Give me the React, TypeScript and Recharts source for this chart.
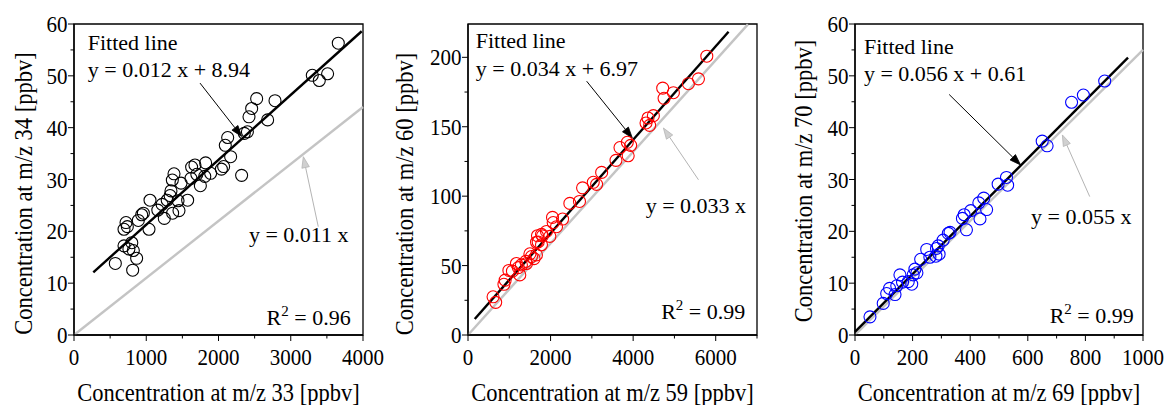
import React from 'react';
import { ScatterChart, Scatter, XAxis, YAxis, ReferenceLine, ReferenceArea, ReferenceDot } from 'recharts';

const FONT = '"Liberation Serif", "Times New Roman", Times, serif';

// ---------- Panel 1 (m/z 33 vs m/z 34) ----------
const p1Points = [
  { x: 572, y: 13.8 }, { x: 812, y: 12.5 }, { x: 867, y: 14.8 }, { x: 821, y: 16.3 }, { x: 800, y: 17.8 },
  { x: 760, y: 16.6 }, { x: 692, y: 17.2 }, { x: 720, y: 21.7 }, { x: 738, y: 20.9 }, { x: 692, y: 20.4 },
  { x: 890, y: 22.1 }, { x: 937, y: 23.2 }, { x: 960, y: 23.5 }, { x: 1038, y: 20.4 }, { x: 1052, y: 26.0 },
  { x: 1160, y: 24.1 }, { x: 1220, y: 25.2 }, { x: 1250, y: 22.5 }, { x: 1290, y: 26.0 }, { x: 1330, y: 26.9 },
  { x: 1342, y: 27.8 }, { x: 1361, y: 29.9 }, { x: 1384, y: 31.1 }, { x: 1440, y: 25.9 }, { x: 1453, y: 24.0 },
  { x: 1365, y: 23.5 }, { x: 1481, y: 29.3 }, { x: 1573, y: 26.0 }, { x: 1619, y: 30.2 }, { x: 1628, y: 32.4 },
  { x: 1674, y: 32.8 }, { x: 1700, y: 31.0 }, { x: 1749, y: 28.8 }, { x: 1810, y: 30.6 }, { x: 1822, y: 33.2 },
  { x: 1891, y: 31.2 }, { x: 2040, y: 32.0 }, { x: 2071, y: 32.5 }, { x: 2094, y: 36.6 }, { x: 2127, y: 38.1 },
  { x: 2168, y: 34.4 }, { x: 2320, y: 30.8 }, { x: 2357, y: 38.9 }, { x: 2400, y: 39.2 }, { x: 2422, y: 42.1 },
  { x: 2459, y: 43.7 }, { x: 2528, y: 45.6 }, { x: 2680, y: 41.5 }, { x: 2782, y: 45.2 }, { x: 3298, y: 50.1 },
  { x: 3395, y: 49.1 }, { x: 3510, y: 50.4 }, { x: 3658, y: 56.3 },
];
const p1Fit = [{ x: 267, y: 12.1 }, { x: 3982, y: 58.6 }];
const p1Ident = [{ x: 0, y: 0 }, { x: 4000, y: 44 }];
const p1FitArrow = [{ x: 1744, y: 48.6 }, { x: 2321, y: 38.3 }];
const p1IdentArrow = [{ x: 3381, y: 20.9 }, { x: 3174, y: 34.4 }];
const p1XTicks = [0, 500, 1000, 1500, 2000, 2500, 3000, 3500, 4000];
const p1YTicks = [0, 5, 10, 15, 20, 25, 30, 35, 40, 45, 50, 55, 60];
const p1Texts = { fitted: 'y = 0.012 x + 8.94', ident: 'y = 0.011 x', r2: '0.96' };

// ---------- Panel 2 (m/z 59 vs m/z 60) ----------
const p2Points = [
  { x: 607, y: 27.5 }, { x: 671, y: 23.5 }, { x: 870, y: 36.5 }, { x: 900, y: 39.5 }, { x: 990, y: 46.5 },
  { x: 1076, y: 46.0 }, { x: 1173, y: 51.5 }, { x: 1254, y: 43.3 }, { x: 1294, y: 50.5 }, { x: 1220, y: 48.5 },
  { x: 1400, y: 53.0 }, { x: 1417, y: 51.5 }, { x: 1500, y: 58.5 }, { x: 1537, y: 56.5 }, { x: 1600, y: 55.0 },
  { x: 1658, y: 57.7 }, { x: 1660, y: 66.8 }, { x: 1683, y: 71.5 }, { x: 1700, y: 67.0 }, { x: 1780, y: 65.0 },
  { x: 1781, y: 72.5 }, { x: 1804, y: 71.4 }, { x: 1901, y: 74.6 }, { x: 1982, y: 71.0 }, { x: 2047, y: 84.7 },
  { x: 2063, y: 81.0 }, { x: 2144, y: 78.0 }, { x: 2291, y: 83.5 }, { x: 2467, y: 94.8 }, { x: 2700, y: 96.2 },
  { x: 2775, y: 106.0 }, { x: 3034, y: 110.0 }, { x: 3115, y: 108.5 }, { x: 3237, y: 117.1 }, { x: 3584, y: 125.8 },
  { x: 3681, y: 135.0 }, { x: 3859, y: 138.8 }, { x: 3940, y: 136.6 }, { x: 3880, y: 129.1 }, { x: 4312, y: 152.7 },
  { x: 4400, y: 151.0 }, { x: 4490, y: 158.0 }, { x: 4360, y: 156.3 }, { x: 4716, y: 177.8 }, { x: 4749, y: 170.5 },
  { x: 4975, y: 174.5 }, { x: 5339, y: 181.0 }, { x: 5582, y: 184.5 }, { x: 5784, y: 200.8 },
];
const p2Fit = [{ x: 163, y: 11.5 }, { x: 6311, y: 218.4 }];
const p2Ident = [{ x: 0, y: 0 }, { x: 6780, y: 223.7 }];
const p2FitArrow = [{ x: 2874, y: 182.8 }, { x: 3980, y: 141.9 }];
const p2IdentArrow = [{ x: 5582, y: 111.8 }, { x: 4733, y: 149.1 }];
const p2XTicks = [0, 1000, 2000, 3000, 4000, 5000, 6000, 7000];
const p2YTicks = [0, 25, 50, 75, 100, 125, 150, 175, 200];
const p2Texts = { fitted: 'y = 0.034 x + 6.97', ident: 'y = 0.033 x', r2: '0.99' };

// ---------- Panel 3 (m/z 69 vs m/z 70) ----------
const p3Points = [
  { x: 52, y: 3.5 }, { x: 98, y: 6.1 }, { x: 110, y: 8.0 }, { x: 120, y: 9.0 }, { x: 139, y: 7.8 },
  { x: 145, y: 9.5 }, { x: 156, y: 11.6 }, { x: 165, y: 10.2 }, { x: 185, y: 10.3 }, { x: 197, y: 9.8 },
  { x: 202, y: 11.6 }, { x: 208, y: 12.7 }, { x: 215, y: 12.0 }, { x: 228, y: 14.6 }, { x: 249, y: 16.5 },
  { x: 260, y: 15.0 }, { x: 281, y: 15.2 }, { x: 283, y: 16.7 }, { x: 289, y: 17.2 }, { x: 292, y: 15.6 },
  { x: 306, y: 18.3 }, { x: 324, y: 19.6 }, { x: 330, y: 19.8 }, { x: 373, y: 22.5 }, { x: 379, y: 23.2 },
  { x: 387, y: 20.3 }, { x: 402, y: 24.0 }, { x: 434, y: 22.4 }, { x: 447, y: 26.4 }, { x: 430, y: 25.5 },
  { x: 457, y: 24.2 }, { x: 497, y: 29.1 }, { x: 526, y: 30.4 }, { x: 530, y: 28.9 }, { x: 650, y: 37.4 },
  { x: 667, y: 36.5 }, { x: 752, y: 44.9 }, { x: 793, y: 46.3 }, { x: 867, y: 49.0 },
];
const p3Fit = [{ x: 0, y: 0.6 }, { x: 948, y: 53.5 }];
const p3Ident = [{ x: 0, y: 0 }, { x: 1000, y: 55 }];
const p3FitArrow = [{ x: 327, y: 46.4 }, { x: 575, y: 32.8 }];
const p3IdentArrow = [{ x: 815, y: 26.7 }, { x: 720, y: 38.6 }];
const p3XTicks = [0, 100, 200, 300, 400, 500, 600, 700, 800, 900, 1000];
const p3YTicks = [0, 5, 10, 15, 20, 25, 30, 35, 40, 45, 50, 55, 60];
const p3Texts = { fitted: 'y = 0.056 x + 0.61', ident: 'y = 0.055 x', r2: '0.99' };

const panels = [
  {
    left: 0, color: '#000000', points: p1Points, fit: p1Fit, ident: p1Ident, fitArrow: p1FitArrow, identArrow: p1IdentArrow,
    xTicks: p1XTicks, yTicks: p1YTicks, xMajor: 1000, yMajor: 10, xDomain: [0, 4000], yDomain: [0, 60], texts: p1Texts,
    xLabel: 'Concentration at m/z 33 [ppbv]', yLabel: 'Concentration at m/z 34 [ppbv]',
    margin: { top: 24, right: 27, bottom: 40, left: 34 },
    fittedPos: { x: 190, y: 55.0 }, eqPos: { x: 190, y: 49.8 }, identPos: { x: 3800, y: 18.0 }, r2Pos: { x: 3830, y: 1.93 },
    yLabelX: 31.5, yLabelCy: 193.5,
  },
  {
    left: 390, color: '#ff0000', points: p2Points, fit: p2Fit, ident: p2Ident, fitArrow: p2FitArrow, identArrow: p2IdentArrow,
    xTicks: p2XTicks, yTicks: p2YTicks, xMajor: 2000, yMajor: 50, xDomain: [0, 7000], yDomain: [0, 224], texts: p2Texts,
    xLabel: 'Concentration at m/z 59 [ppbv]', yLabel: 'Concentration at m/z 60 [ppbv]',
    margin: { top: 24, right: 23, bottom: 40, left: 38 },
    fittedPos: { x: 187, y: 206.9 }, eqPos: { x: 187, y: 186.9 }, identPos: { x: 6735, y: 88.0 }, r2Pos: { x: 6716, y: 11.5 },
    yLabelX: 23, yLabelCy: 194,
  },
  {
    left: 780, color: '#0000ff', points: p3Points, fit: p3Fit, ident: p3Ident, fitArrow: p3FitArrow, identArrow: p3IdentArrow,
    xTicks: p3XTicks, yTicks: p3YTicks, xMajor: 200, yMajor: 10, xDomain: [0, 1000], yDomain: [0, 60], texts: p3Texts,
    xLabel: 'Concentration at m/z 69 [ppbv]', yLabel: 'Concentration at m/z 70 [ppbv]',
    margin: { top: 24, right: 27, bottom: 40, left: 35 },
    fittedPos: { x: 31, y: 54.2 }, eqPos: { x: 31, y: 49.0 }, identPos: { x: 960, y: 21.4 }, r2Pos: { x: 968, y: 2.4 },
    yLabelX: 31.7, yLabelCy: 181,
  },
];

const isMajor = (v: number, step: number) => Math.abs(v / step - Math.round(v / step)) < 1e-9;

const XTick = (props: any) => {
  const { x, y, payload, major } = props;
  const m = isMajor(payload.value, major);
  return (
    <g>
      <line x1={x} x2={x} y1={y} y2={y + (m ? 6 : 3.5)} stroke="#000" strokeWidth={1} />
      {m && (
        <text
          x={0}
          y={0}
          transform={`translate(${x}, ${y + 29.5}) scale(1, 1.14)`}
          textAnchor="middle"
          fontFamily={FONT}
          fontSize={21}
          fill="#000"
        >
          {payload.value}
        </text>
      )}
    </g>
  );
};

const YTick = (props: any) => {
  const { x, y, payload, major } = props;
  const m = isMajor(payload.value, major);
  return (
    <g>
      <line x1={x} x2={x - (m ? 6 : 3.5)} y1={y} y2={y} stroke="#000" strokeWidth={1} />
      {m && (
        <text
          x={0}
          y={0}
          transform={`translate(${x - 6.5}, ${y + 8}) scale(1, 1.14)`}
          textAnchor="end"
          fontFamily={FONT}
          fontSize={21}
          fill="#000"
        >
          {payload.value}
        </text>
      )}
    </g>
  );
};

const makeArrow = (color: string, headFill: string) => (props: any) => {
  const { x1, y1, x2, y2 } = props;
  const dx = x2 - x1;
  const dy = y2 - y1;
  const L = Math.hypot(dx, dy) || 1;
  const ux = dx / L;
  const uy = dy / L;
  const hl = 11;
  const hw = 3.8;
  const bx = x2 - ux * hl;
  const by = y2 - uy * hl;
  const px = -uy;
  const py = ux;
  return (
    <g>
      <line x1={x1} y1={y1} x2={bx} y2={by} stroke={color} strokeWidth={1} />
      <polygon
        points={`${x2},${y2} ${bx + px * hw},${by + py * hw} ${bx - px * hw},${by - py * hw}`}
        fill={headFill}
        stroke={color}
        strokeWidth={0.8}
      />
    </g>
  );
};

const blackArrow = makeArrow('#000000', '#000000');
const grayArrow = makeArrow('#b4b4b4', '#d0d0d0');

const textShape = (content: React.ReactNode, anchor: 'start' | 'end') => (p: any) => (
  <text x={p.cx} y={p.cy} textAnchor={anchor} fontFamily={FONT} fontSize={22} fill="#000">
    {content}
  </text>
);

const Panel = ({ cfg }: { cfg: any }) => {
  const color = cfg.color;
  return (
    <div style={{ position: 'absolute', left: cfg.left, top: 0, width: 390, height: 405 }}>
      <ScatterChart width={390} height={405} margin={cfg.margin}>
        <XAxis
          type="number"
          dataKey="x"
          domain={cfg.xDomain}
          ticks={cfg.xTicks}
          interval={0}
          tickSize={0}
          tickMargin={0}
          tickLine={false}
          axisLine={{ stroke: '#000', strokeWidth: 1.3 }}
          height={30}
          allowDataOverflow
          tick={<XTick major={cfg.xMajor} />}
          label={(p: any) => {
            const vb = p.viewBox || { x: 0, y: 0, width: 0 };
            return (
              <text
                x={0}
                y={0}
                transform={`translate(${vb.x + vb.width / 2}, ${vb.y + 66}) scale(1, 1.1)`}
                textAnchor="middle"
                fontFamily={FONT}
                fontSize={22.5}
                fill="#000"
              >
                {cfg.xLabel}
              </text>
            );
          }}
        />
        <YAxis
          type="number"
          dataKey="y"
          domain={cfg.yDomain}
          ticks={cfg.yTicks}
          interval={0}
          tickSize={0}
          tickMargin={0}
          tickLine={false}
          axisLine={{ stroke: '#000', strokeWidth: 1.3 }}
          width={40}
          allowDataOverflow
          tick={<YTick major={cfg.yMajor} />}
          label={() => (
            <text
              x={0}
              y={0}
              transform={`translate(${cfg.yLabelX}, ${cfg.yLabelCy}) rotate(-90) scale(1, 1.1)`}
              textAnchor="middle"
              fontFamily={FONT}
              fontSize={22.5}
              fill="#000"
            >
              {cfg.yLabel}
            </text>
          )}
        />
        <ReferenceArea
          x1={cfg.xDomain[0]}
          x2={cfg.xDomain[1]}
          y1={cfg.yDomain[0]}
          y2={cfg.yDomain[1]}
          fill="none"
          fillOpacity={0}
          stroke="#000"
          strokeWidth={1.3}
        />
        <ReferenceLine segment={cfg.ident} stroke="#c4c4c4" strokeWidth={2.4} />
        <ReferenceLine segment={cfg.fit} stroke="#000" strokeWidth={2.4} />
        <ReferenceLine segment={cfg.fitArrow} shape={blackArrow} />
        <ReferenceLine segment={cfg.identArrow} shape={grayArrow} />
        <Scatter
          data={cfg.points}
          isAnimationActive={false}
          shape={(p: any) => <circle cx={p.cx} cy={p.cy} r={6} fill="none" stroke={color} strokeWidth={1.1} />}
        />
        <ReferenceDot x={cfg.fittedPos.x} y={cfg.fittedPos.y} r={0} shape={textShape('Fitted line', 'start')} />
        <ReferenceDot x={cfg.eqPos.x} y={cfg.eqPos.y} r={0} shape={textShape(cfg.texts.fitted, 'start')} />
        <ReferenceDot x={cfg.identPos.x} y={cfg.identPos.y} r={0} shape={textShape(cfg.texts.ident, 'end')} />
        <ReferenceDot
          x={cfg.r2Pos.x}
          y={cfg.r2Pos.y}
          r={0}
          shape={(p: any) => (
            <text x={p.cx} y={p.cy} textAnchor="end" fontFamily={FONT} fontSize={22} fill="#000">
              R
              <tspan dy={-9} fontSize={15}>2</tspan>
              <tspan dy={9}>{' = ' + cfg.texts.r2}</tspan>
            </text>
          )}
        />
      </ScatterChart>
    </div>
  );
};

export default function App() {
  return (
    <div style={{ position: 'absolute', left: 0, top: 0, width: 1169, height: 405, background: '#fff' }}>
      {panels.map((cfg, i) => (
        <Panel key={i} cfg={cfg} />
      ))}
    </div>
  );
}
